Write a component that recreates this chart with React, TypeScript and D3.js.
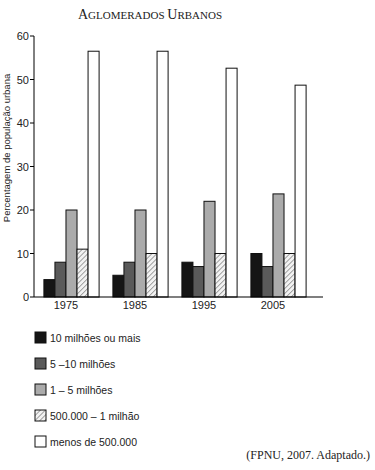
import React from "react";
import * as d3 from "d3";

const years = ["1975", "1985", "1995", "2005"];
const seriesNames = [
  "10 milhões ou mais",
  "5 –10 milhões",
  "1 – 5 milhões",
  "500.000 – 1 milhão",
  "menos de 500.000",
];
const s10mais = [4, 5, 8, 10];
const s5a10 = [8, 8, 7, 7];
const s1a5 = [20, 20, 22, 23.7];
const s500a1 = [11, 10, 10, 10];
const sMenos500 = [56.5, 56.5, 52.6, 48.7];
const yTicks = [0, 10, 20, 30, 40, 50, 60];

const seriesValues = [s10mais, s5a10, s1a5, s500a1, sMenos500];
const fills = ["#151515", "#5a5a5a", "#ababab", "url(#hatch)", "#ffffff"];

export default function App() {
  const W = 375, H = 470;
  const left = 34, right = 323, top = 36, bottom = 297;
  const y = d3.scaleLinear().domain([0, 60]).range([bottom, top]);
  const x0 = d3.scaleBand<string>().domain(years).range([37, 313]).paddingInner(0.2).paddingOuter(0.1);
  const x1 = d3.scaleBand<number>().domain(d3.range(5)).range([0, x0.bandwidth()]);
  const sans = "'Liberation Sans', Arial, sans-serif";
  const serif = "'Liberation Serif', 'Times New Roman', serif";
  return (
    <svg width={W} height={H} style={{ position: "absolute", left: 0, top: 0, background: "#fff" }}>
      <defs>
        <pattern id="hatch" patternUnits="userSpaceOnUse" width="3.5" height="3.5" patternTransform="rotate(45)">
          <rect width="3.5" height="3.5" fill="#f2f2f2" />
          <line x1="0" y1="0" x2="0" y2="3.5" stroke="#777" strokeWidth="1.3" />
        </pattern>
      </defs>
      <text x={150} y={19} textAnchor="middle" fontFamily={serif} fill="#222">
        <tspan fontSize={14}>A</tspan><tspan fontSize={11}>GLOMERADOS </tspan>
        <tspan fontSize={14}>U</tspan><tspan fontSize={11}>RBANOS</tspan>
      </text>
      {/* y axis */}
      <line x1={left} x2={left} y1={top} y2={bottom} stroke="#000" strokeWidth={1} />
      {yTicks.map((t) => (
        <g key={t}>
          <line x1={left - 4} x2={left} y1={y(t)} y2={y(t)} stroke="#000" />
          <text x={left - 5} y={y(t) + 4} textAnchor="end" fontFamily={sans} fontSize={11} fill="#222">{t}</text>
        </g>
      ))}
      <text transform={`translate(10,${148}) rotate(-90)`} textAnchor="middle" fontFamily={sans} fontSize={9.5} fill="#222">
        Percentagem de população urbana
      </text>
      {/* bars */}
      {years.map((yr, gi) => (
        <g key={yr} transform={`translate(${x0(yr)},0)`}>
          {seriesValues.map((vals, si) => (
            <rect key={si} x={x1(si)} y={y(vals[gi])} width={x1.bandwidth()} height={bottom - y(vals[gi])}
              fill={fills[si]} stroke="#111" strokeWidth={1} />
          ))}
        </g>
      ))}
      {/* x axis */}
      <line x1={left} x2={right} y1={bottom} y2={bottom} stroke="#000" strokeWidth={1.2} />
      {years.map((yr) => (
        <text key={yr} x={(x0(yr) as number) + 2 * x1.bandwidth()} y={bottom + 12} textAnchor="middle" fontFamily={sans} fontSize={11} fill="#222">{yr}</text>
      ))}
      {/* legend */}
      {seriesNames.map((n, i) => (
        <g key={n} transform={`translate(35,${332 + i * 26})`}>
          <rect x={0} y={0} width={11} height={11} fill={fills[i]} stroke="#111" strokeWidth={1} />
          <text x={15} y={10} fontFamily={sans} fontSize={10.5} fill="#222">{n}</text>
        </g>
      ))}
      <text x={370} y={459} textAnchor="end" fontFamily={serif} fontSize={12} fill="#222">(FPNU, 2007. Adaptado.)</text>
    </svg>
  );
}
